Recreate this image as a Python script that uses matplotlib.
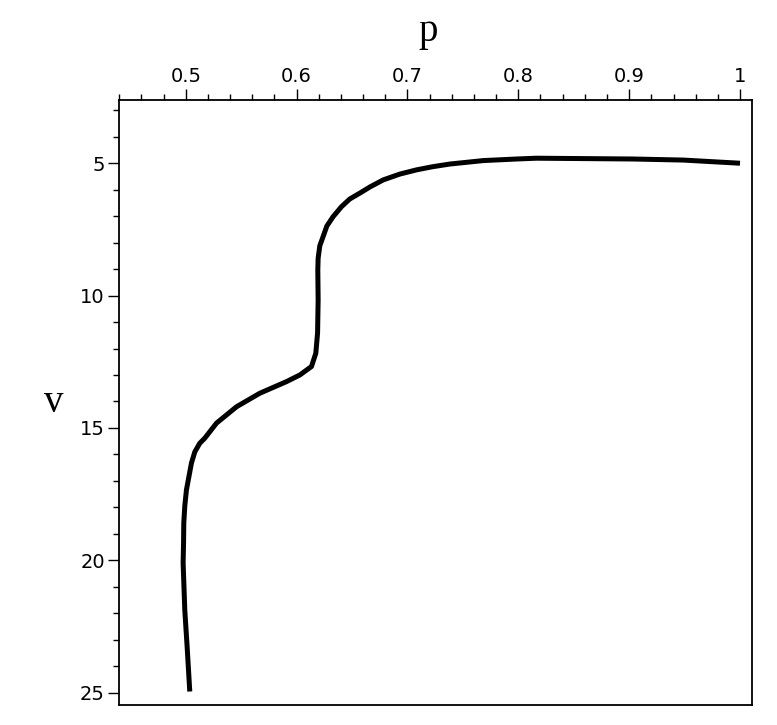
import matplotlib
matplotlib.use("Agg")
import matplotlib.pyplot as plt
from matplotlib.ticker import MultipleLocator, FixedLocator

# curve (p, v), bottom to top
p_vals = [0.5036, 0.5012, 0.4991, 0.4976, 0.4980, 0.4982, 0.4991, 0.5006, 0.5051,
          0.5081, 0.5126, 0.5171, 0.5277, 0.5458, 0.5668, 0.5909, 0.6029, 0.6134,
          0.6173, 0.6189, 0.6194, 0.6191, 0.6194, 0.6209, 0.6239, 0.6273, 0.6329,
          0.6405, 0.6480, 0.6570, 0.6660, 0.6781, 0.6931, 0.7082, 0.7229, 0.7383,
          0.7683, 0.7985, 0.8165, 0.9034, 0.9486, 1.0]
v_vals = [24.96, 23.26, 21.88, 20.11, 19.30, 18.59, 17.95, 17.34, 16.33,
          15.91, 15.58, 15.39, 14.82, 14.20, 13.69, 13.25, 13.00, 12.68,
          12.18, 11.41, 10.16, 9.03, 8.59, 8.12, 7.77, 7.37, 7.02,
          6.64, 6.35, 6.13, 5.90, 5.63, 5.41, 5.25, 5.13, 5.03,
          4.90, 4.84, 4.81, 4.84, 4.88, 5.0]

x_ticks = [0.5, 0.6, 0.7, 0.8, 0.9, 1.0]
x_labels = ["0.5", "0.6", "0.7", "0.8", "0.9", "1"]
y_ticks = [5, 10, 15, 20, 25]

fig = plt.figure(figsize=(7.77, 7.25), dpi=100)
ax = fig.add_axes([0.1528, 0.0272, 0.815, 0.8349])

ax.plot(p_vals, v_vals, color="black", lw=3.6, solid_joinstyle="round", solid_capstyle="butt")

ax.set_xlim(0.4395, 1.0108)
ax.set_ylim(25.48, 2.61)

ax.xaxis.tick_top()
ax.xaxis.set_major_locator(FixedLocator(x_ticks))
ax.set_xticklabels(x_labels)
ax.xaxis.set_minor_locator(MultipleLocator(0.02))
ax.yaxis.set_major_locator(FixedLocator(y_ticks))
ax.yaxis.set_minor_locator(MultipleLocator(1))

ax.tick_params(which="major", length=8, width=1, labelsize=14, pad=2)
ax.tick_params(which="minor", length=4, width=1)
for s in ax.spines.values():
    s.set_linewidth(1.3)

fig.text(428 / 777, 1 - 32 / 725, "p", fontsize=28, family="Liberation Serif",
         ha="center", va="center")
fig.text(54 / 777, 1 - 402 / 725, "v", fontsize=28, family="Liberation Serif",
         ha="center", va="center")

plt.savefig("out.png", dpi=100)
plt.close()
